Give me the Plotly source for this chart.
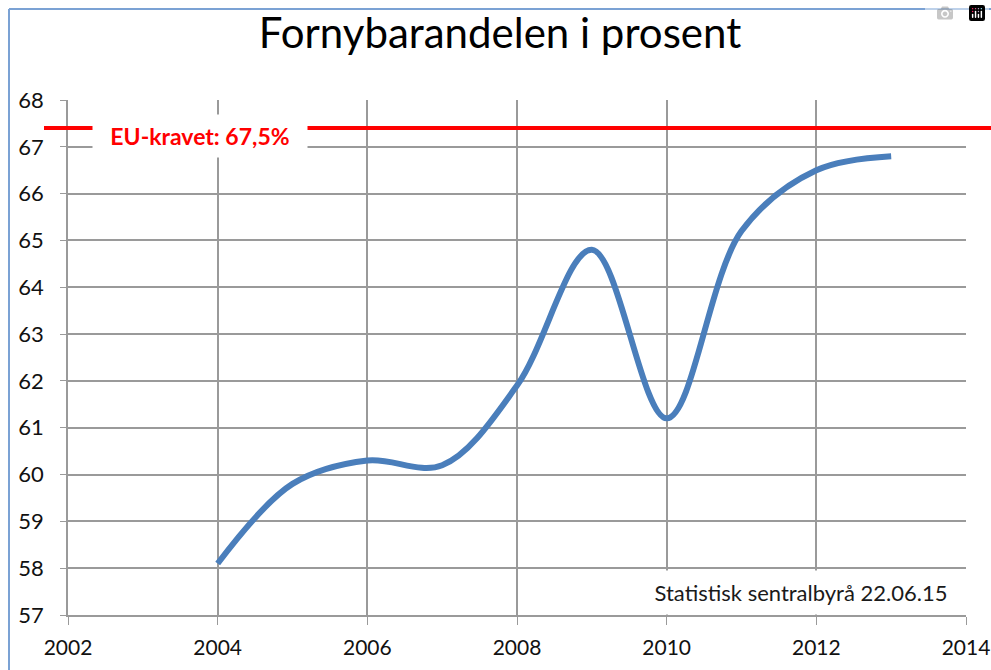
import plotly.graph_objects as go

years = [2004, 2005, 2006, 2007, 2008, 2009, 2010, 2011, 2012, 2013]
share = [58.1, 59.8, 60.3, 60.2, 61.9, 64.8, 61.2, 65.2, 66.5, 66.8]
eu_target = 67.4
eu_label = "EU-kravet: 67,5%"
source_label = "Statistisk sentralbyrå 22.06.15"
title_text = "Fornybarandelen i prosent"
x_ticks = [2002, 2004, 2006, 2008, 2010, 2012, 2014]
y_ticks = list(range(57, 69))

FONT = "Lato, 'Open Sans', sans-serif"
GRID = "#9a9a9a"

fig = go.Figure()
fig.add_trace(go.Scatter(
    x=years, y=share, mode="lines",
    line=dict(color="#4A7EBB", width=6, shape="spline", smoothing=1.0),
    showlegend=False, hoverinfo="x+y",
))

W, H = 991, 670
# plot area in screenshot pixels: x 68..966, y 100..615
L, R, T, B = 68, W - 966, 100, H - 615
pw, ph = W - L - R, H - T - B

def px_x(px):
    return (px - L) / pw

def px_y(py):
    return (H - B - py) / ph

fig.update_layout(
    width=W, height=H,
    margin=dict(l=L, r=R, t=T, b=B, autoexpand=False),
    paper_bgcolor="white", plot_bgcolor="white",
    title=dict(text=title_text, x=500 / W, xanchor="center", y=1 - 33 / H, yanchor="middle",
               font=dict(family=FONT, size=42, color="#000000")),
    xaxis=dict(range=[2002, 2014], tickvals=x_ticks, showgrid=True, gridcolor=GRID, gridwidth=1.5,
               showline=True, linecolor=GRID, linewidth=1.5, ticks="outside", ticklen=8,
               tickcolor=GRID, tickfont=dict(family=FONT, size=21, color="#111"), zeroline=False,
               ticklabelstandoff=5, ticklabeloverflow="allow", fixedrange=True, automargin=False),
    yaxis=dict(range=[57, 68], tickvals=y_ticks, showgrid=True, gridcolor=GRID, gridwidth=1.5,
               showline=True, linecolor=GRID, linewidth=1.5, ticks="outside", ticklen=6,
               tickcolor=GRID, tickfont=dict(family=FONT, size=22, color="#111"), zeroline=False,
               ticklabelstandoff=12, fixedrange=True, automargin=False),
    shapes=[
        dict(type="line", xref="paper", yref="y", x0=px_x(44), x1=px_x(991), y0=eu_target, y1=eu_target,
             line=dict(color="#FF0000", width=4)),
        dict(type="line", xref="paper", yref="paper", x0=px_x(9), x1=px_x(9), y0=px_y(9), y1=px_y(670),
             line=dict(color="#7BA2D4", width=2)),
        dict(type="line", xref="paper", yref="paper", x0=px_x(9), x1=px_x(991), y0=px_y(9), y1=px_y(9),
             line=dict(color="#7BA2D4", width=2)),
    ],
    annotations=[
        dict(text="<b>" + eu_label + "</b>", xref="paper", yref="paper", x=px_x(200), y=px_y(136),
             showarrow=False, xanchor="center", yanchor="middle", bgcolor="white",
             width=202, height=30, borderpad=6, font=dict(family=FONT, size=23, color="#FF0000")),
        dict(text=source_label, xref="paper", yref="paper", x=px_x(801), y=px_y(592),
             showarrow=False, xanchor="center", yanchor="middle", bgcolor="white",
             width=314, height=35, borderpad=4, font=dict(family=FONT, size=22, color="#1a1a1a")),
    ],
)

fig.write_html("out.html", post_script="document.body.style.margin='0';document.documentElement.style.overflow='hidden';document.body.style.overflow='hidden';")
